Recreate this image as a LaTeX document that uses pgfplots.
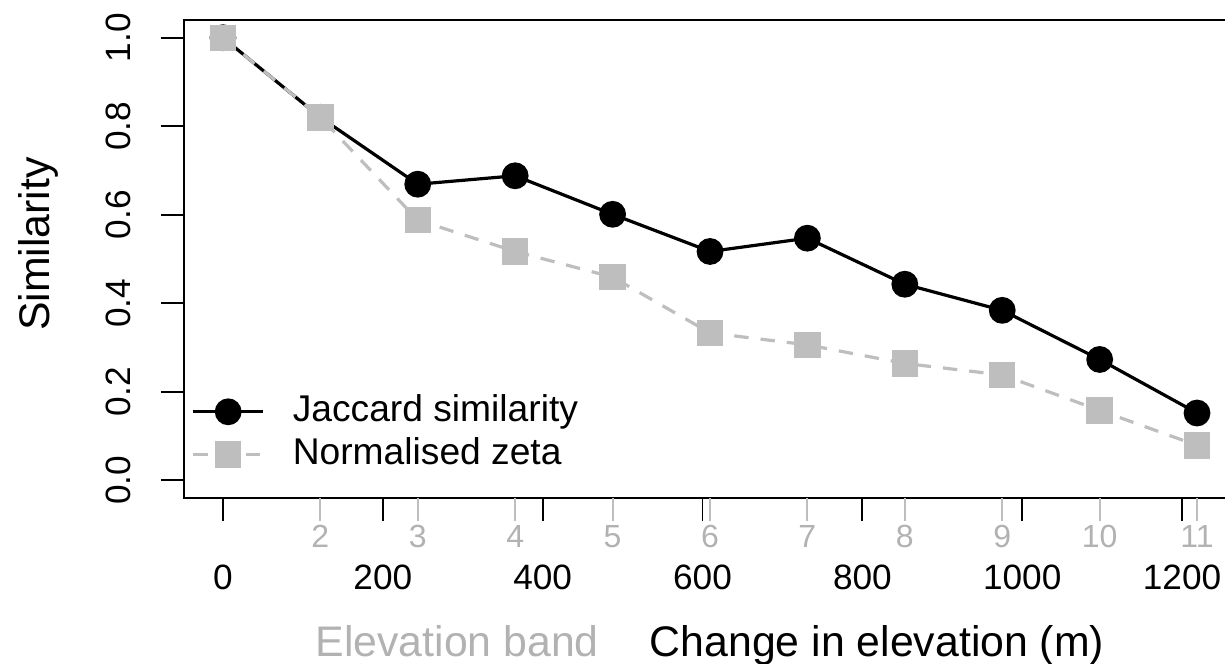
\documentclass[border=0pt]{standalone}
\usepackage{fontspec}
\setmainfont{Liberation Sans}
\usepackage{pgfplots}
\pgfplotsset{compat=1.18}
\definecolor{rgrey}{RGB}{190,190,190}
\definecolor{tgrey}{RGB}{178,178,178}
\begin{document}
\begin{tikzpicture}
\begin{axis}[
  at={(0,0)}, anchor=south west,
  scale only axis, width=263pt, height=119.5pt,
  xmin=-48.75, xmax=1267.45, ymin=-0.04, ymax=1.04,
  /pgf/number format/assume math mode=true,
  axis line style={line width=0.45pt, black},
  tick align=outside, xtick pos=bottom, ytick pos=left,
  major tick length=5.8pt,
  tick style={black, line width=0.45pt},
  xtick={0,200,400,600,800,1000,1200},
  xticklabels={0,200,400,600,800,1000,1200},
  ytick={0,0.2,0.4,0.6,0.8,1},
  yticklabels={0.0,0.2,0.4,0.6,0.8,1.0},
  xticklabel style={font=\fontsize{8.8}{10}\selectfont, anchor=base, yshift=-17pt},
  yticklabel style={font=\fontsize{8.8}{10}\selectfont, xshift=-7.45pt, rotate=90, anchor=base},
  extra x ticks={121.9,243.7,365.6,487.5,609.4,731.2,853.1,975.0,1096.9,1218.7},
  extra x tick labels={2,3,4,5,6,7,8,9,10,11},
  extra x tick style={tick style={rgrey, line width=0.45pt},
    xticklabel style={text=tgrey, font=\fontsize{8}{9}\selectfont, yshift=10.5pt}},
  every axis x label/.style={at={(axis description cs:0.5,0)}, yshift=-39.75pt, anchor=base, font=\fontsize{10.7}{12}\selectfont},
  every axis y label/.style={at={(axis description cs:0,0.531)}, xshift=-33.5pt, rotate=90, anchor=base, font=\fontsize{10.7}{12}\selectfont},
  xlabel={\textcolor{tgrey}{Elevation band}\hspace{12.75pt}Change in elevation (m)},
  ylabel={Similarity},
  legend cell align=left,
  legend style={at={(axis description cs:0,0)}, anchor=south west, xshift=1.9pt, yshift=8pt,
    draw=none, fill=none, inner sep=0pt, outer sep=0pt, row sep=3.4pt, column sep=7pt,
    font=\fontsize{9.3}{11}\selectfont,
    nodes={inner sep=0pt, text height=6.7pt, text depth=0pt}},
  legend image code/.code={\draw[mark repeat=2, mark phase=2, #1] plot coordinates {(0pt,-0.8pt) (8.75pt,-0.8pt) (17.5pt,-0.8pt)};},
]
\addplot[black, line width=0.8pt, line join=round, mark=*, mark size=3.1pt,
  mark options={solid, fill=black, line width=0.5pt}] coordinates {
  (0,1.000) (121.9,0.820) (243.7,0.669) (365.6,0.688) (487.5,0.601) (609.4,0.517)
  (731.2,0.547) (853.1,0.443) (975.0,0.384) (1096.9,0.273) (1218.7,0.152)};
\addlegendentry{Jaccard similarity}
\addplot[rgrey, line width=0.8pt, dash pattern=on 3.6pt off 3pt, mark=square*, mark size=2.9pt,
  mark options={solid, draw=none, fill=rgrey}] coordinates {
  (0,1.000) (121.9,0.820) (243.7,0.588) (365.6,0.517) (487.5,0.459) (609.4,0.333)
  (731.2,0.306) (853.1,0.264) (975.0,0.238) (1096.9,0.158) (1218.7,0.079)};
\addlegendentry{Normalised zeta}
\end{axis}
\pgfresetboundingbox
\useasboundingbox (-46pt,-41.5pt) rectangle (260.25pt,124.5pt);
\end{tikzpicture}
\end{document}
